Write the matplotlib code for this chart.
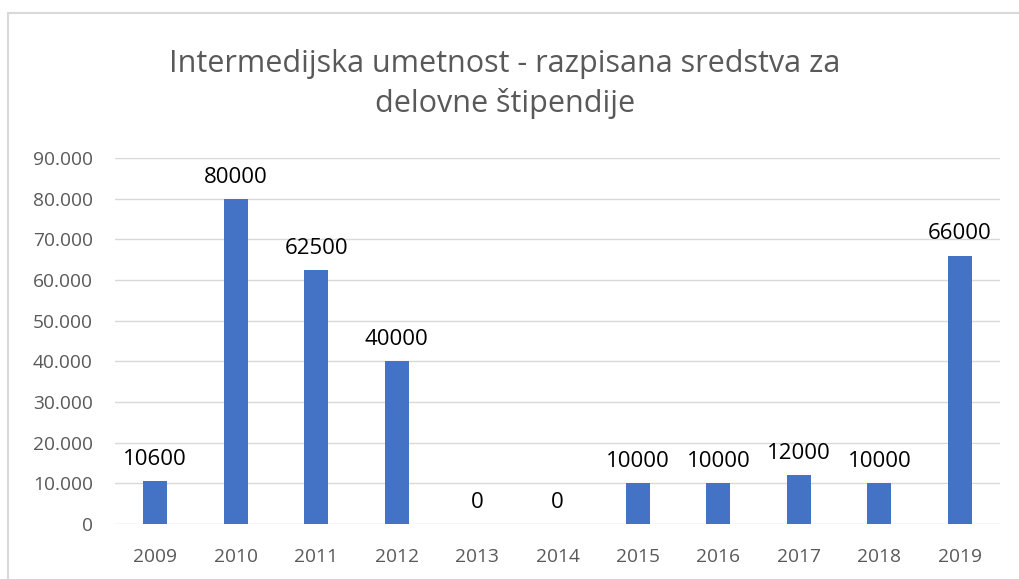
import matplotlib.pyplot as plt
from matplotlib.patches import Rectangle
from matplotlib.ticker import FuncFormatter

years = ["2009", "2010", "2011", "2012", "2013", "2014",
         "2015", "2016", "2017", "2018", "2019"]
amounts = [10600, 80000, 62500, 40000, 0, 0, 10000, 10000, 12000, 10000, 66000]
y_ticks = [0, 10000, 20000, 30000, 40000, 50000, 60000, 70000, 80000, 90000]

plt.rcParams['font.family'] = ['Open Sans', 'DejaVu Sans']

fig = plt.figure(figsize=(10.19, 5.79), dpi=100)
W, H = 1019, 579
ax = fig.add_axes([115 / W, 1 - 524 / H, 885 / W, 366 / H])

# chart frame, cut off on the right and bottom
fig.patches.append(Rectangle((8 / W, -0.1), 1.2, 1 - 13 / H + 0.1,
                             transform=fig.transFigure, fill=False,
                             edgecolor='#d9d9d9', linewidth=1.5))

x = range(len(years))
ax.bar(x, amounts, width=0.3, color='#4472C4', zorder=3)
for xi, v in zip(x, amounts):
    ax.annotate(str(v), (xi, v), xytext=(0, 8), textcoords='offset points',
                ha='center', va='bottom', fontsize=16, color='black')

ax.set_xlim(-0.5, len(years) - 0.5)
ax.set_ylim(0, 90000)
ax.set_yticks(y_ticks)
ax.yaxis.set_major_formatter(
    FuncFormatter(lambda v, p: "0" if v == 0 else f"{int(v):,}".replace(",", ".")))
ax.set_xticks(list(x))
ax.set_xticklabels(years)
ax.tick_params(axis='both', length=0, labelsize=13.8, labelcolor='#595959')
ax.tick_params(axis='x', pad=17)
ax.tick_params(axis='y', pad=16)
ax.grid(axis='y', color='#d9d9d9', linewidth=1, zorder=0)
for s in ax.spines.values():
    s.set_visible(False)

fig.text(505 / W, 1 - 84 / H,
         "Intermedijska umetnost - razpisana sredstva za\ndelovne štipendije",
         ha='center', va='center', fontsize=22, color='#595959',
         linespacing=1.4)

fig.savefig('out.png', dpi=100)
